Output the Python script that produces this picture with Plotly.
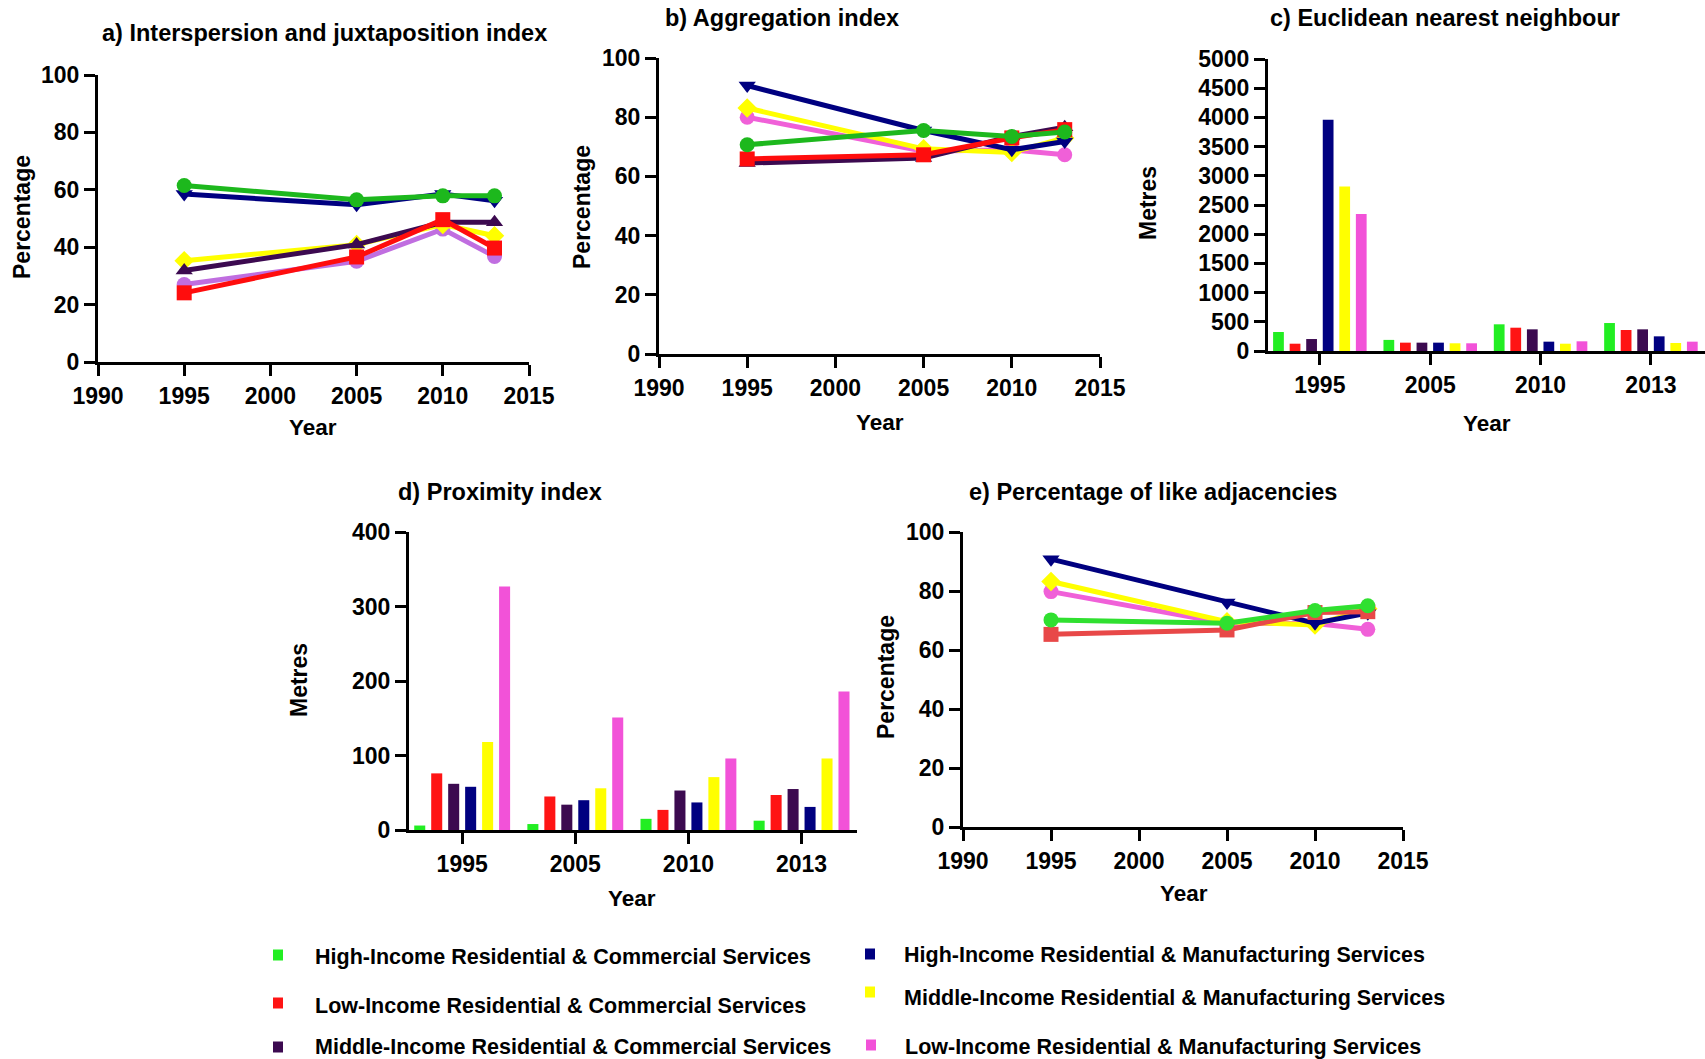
import plotly.graph_objects as go

W, H = 1705, 1059
FONT = "Arial, 'Liberation Sans', sans-serif"

YEARS = [1995, 2005, 2010, 2013]
YEAR_LABELS = ["1995", "2005", "2010", "2013"]

SERIES = {
    "hi_com": "High-Income Residential & Commercial Services",
    "lo_com": "Low-Income Residential & Commercial Services",
    "mid_com": "Middle-Income Residential & Commercial Services",
    "hi_man": "High-Income Residential & Manufacturing Services",
    "mid_man": "Middle-Income Residential & Manufacturing Services",
    "lo_man": "Low-Income Residential & Manufacturing Services",
}

# a) Interspersion and juxtaposition index (%)
iji = {
    "hi_com": [61.5, 56.5, 57.9, 57.9],
    "lo_com": [24.1, 36.6, 49.6, 39.7],
    "mid_com": [31.9, 40.9, 48.7, 48.7],
    "hi_man": [58.5, 54.8, 58.5, 56.2],
    "mid_man": [35.3, 40.9, 47.9, 44.0],
    "lo_man": [27.0, 35.1, 46.3, 36.8],
}

# b) Aggregation index (%)
ai = {
    "hi_com": [70.7, 75.5, 73.5, 75.0],
    "lo_com": [65.9, 67.3, 73.0, 75.8],
    "mid_com": [64.5, 66.2, 73.5, 76.6],
    "hi_man": [90.7, 75.5, 69.0, 71.8],
    "mid_man": [83.1, 69.3, 68.1, 73.0],
    "lo_man": [80.0, 68.5, 69.0, 67.3],
}

# c) Euclidean nearest neighbour (m)
enn = {
    "hi_com": [325, 190, 457, 479],
    "lo_com": [125, 143, 399, 360],
    "mid_com": [205, 143, 371, 371],
    "hi_man": [3961, 143, 160, 251],
    "mid_man": [2818, 132, 125, 137],
    "lo_man": [2348, 132, 166, 160],
}

# d) Proximity index (m)
prox = {
    "hi_com": [6, 8, 15, 12.5],
    "lo_com": [76, 45, 27, 47],
    "mid_com": [62, 34, 53, 55],
    "hi_man": [58, 40, 37, 31],
    "mid_man": [118, 56, 71, 96],
    "lo_man": [327, 151, 96, 186],
}

# e) Percentage of like adjacencies (%)
pladj = {
    "hi_com": [70.2, 69.1, 73.4, 75.0],
    "lo_com": [65.3, 66.8, 72.7, 73.0],
    "hi_man": [90.8, 76.1, 69.1, 72.5],
    "mid_man": [83.2, 69.6, 68.5, 74.0],
    "lo_man": [79.8, 69.0, 69.0, 67.0],
}

SYMBOLS = {
    "hi_com": "circle", "lo_com": "square", "mid_com": "triangle-up",
    "hi_man": "triangle-down", "mid_man": "diamond", "lo_man": "circle",
}
BAR_COLORS = {
    "hi_com": "#22ee22", "lo_com": "#ff1414", "mid_com": "#3c0a50",
    "hi_man": "#000080", "mid_man": "#ffff00", "lo_man": "#f252d8",
}
LINE_COLORS = {
    "hi_com": "#1db81d", "lo_com": "#ff0d0d", "mid_com": "#3c0a50",
    "hi_man": "#000080", "mid_man": "#ffff00", "lo_man": "#f060d8",
}
LINE_COLORS_A = dict(LINE_COLORS, lo_man="#c06ee0")
LINE_COLORS_E = dict(LINE_COLORS, hi_com="#30e030", lo_com="#e84848")

DRAW_ORDER = ["lo_man", "mid_man", "hi_man", "mid_com", "lo_com", "hi_com"]
BAR_ORDER = ["hi_com", "lo_com", "mid_com", "hi_man", "mid_man", "lo_man"]

# panel boxes in pixels: left, right, top, bottom
BOXES = {
    1: (98, 529, 75, 362),
    2: (659, 1100, 58, 354),
    3: (1268, 1705, 59, 351),
    4: (409, 857, 532, 830),
    5: (963, 1403, 532, 827),
}


def fx(p):
    return p / W


def fy(p):
    return 1 - p / H


fig = go.Figure()


def add_lines(n, data, colors):
    for k in DRAW_ORDER:
        if k not in data:
            continue
        fig.add_trace(go.Scatter(
            x=YEARS, y=data[k], mode="lines+markers", name=SERIES[k],
            line=dict(color=colors[k], width=5),
            marker=dict(symbol=SYMBOLS[k], size=15, color=colors[k],
                        line=dict(width=0)),
            xaxis=f"x{n}", yaxis=f"y{n}", showlegend=False, cliponaxis=False,
        ))


def add_bars(n, data):
    for k in BAR_ORDER:
        fig.add_trace(go.Bar(
            x=YEAR_LABELS, y=data[k], name=SERIES[k],
            marker=dict(color=BAR_COLORS[k], line=dict(width=0)),
            offsetgroup=k, xaxis=f"x{n}", yaxis=f"y{n}", showlegend=False,
        ))


add_lines(1, iji, LINE_COLORS_A)
add_lines(2, ai, LINE_COLORS)
add_bars(3, enn)
add_bars(4, prox)
add_lines(5, pladj, LINE_COLORS_E)

tick_font = dict(family=FONT, size=23, color="black", weight="bold")
axis_style = dict(
    showline=True, linecolor="black", linewidth=3, mirror=False,
    ticks="outside", ticklen=11, tickwidth=3, tickcolor="black",
    showgrid=False, zeroline=False, tickfont=tick_font, fixedrange=True,
    automargin=False,
)

layout = dict(
    template="none",
    width=W, height=H, autosize=False,
    margin=dict(l=0, r=0, t=0, b=0, pad=0, autoexpand=False),
    paper_bgcolor="white", plot_bgcolor="white",
    barmode="group", bargap=0.1, bargroupgap=0.35,
    showlegend=False,
    font=dict(family=FONT, color="black"),
)

for n, (l, r, t, b) in BOXES.items():
    xa = dict(axis_style, domain=[fx(l), fx(r)], anchor=f"y{n}")
    ya = dict(axis_style, domain=[fy(b), fy(t)], anchor=f"x{n}")
    if n in (3, 4):
        xa.update(type="category", range=[-0.47, 3.49])
    else:
        xa.update(range=[1990, 2015], tickvals=[1990, 1995, 2000, 2005, 2010, 2015])
    if n == 3:
        ya.update(range=[0, 5000], dtick=500)
    elif n == 4:
        ya.update(range=[0, 400], dtick=100)
    else:
        ya.update(range=[0, 100], dtick=20)
    sfx = "" if n == 1 else str(n)
    layout["xaxis" + sfx] = xa
    layout["yaxis" + sfx] = ya

annotations = []


def text(x, y, s, size, angle=0, xanchor="center"):
    annotations.append(dict(
        x=fx(x), y=fy(y), xref="paper", yref="paper", text=s,
        showarrow=False, xanchor=xanchor, yanchor="middle", textangle=angle,
        font=dict(family=FONT, size=size, color="black", weight="bold"),
    ))


# panel titles
text(324, 33, "a) Interspersion and juxtaposition index", 23.5)
text(782, 18, "b) Aggregation index", 23.5)
text(1445, 18, "c) Euclidean nearest neighbour", 23.5)
text(500, 492, "d) Proximity index", 23.5)
text(1153, 492, "e) Percentage of like adjacencies", 23.5)

# axis titles
text(313, 428, "Year", 22.5)
text(880, 422, "Year", 22.5)
text(1487, 423, "Year", 22.5)
text(632, 898, "Year", 22.5)
text(1184, 893, "Year", 22.5)
text(22, 217, "Percentage", 23, angle=-90)
text(582, 207, "Percentage", 23, angle=-90)
text(1148, 203, "Metres", 23, angle=-90)
text(299, 680, "Metres", 23, angle=-90)
text(886, 677, "Percentage", 23, angle=-90)

# legend: colour squares with labels, two columns
LEGEND_ITEMS = [
    ("hi_com", 278, 955, 313, 957),
    ("lo_com", 278, 1003, 313, 1006),
    ("mid_com", 278, 1047, 313, 1047),
    ("hi_man", 870, 954, 902, 955),
    ("mid_man", 870, 992, 902, 998),
    ("lo_man", 871, 1045, 903, 1047),
]
shapes = []
for k, sx, sy, tx, ty in LEGEND_ITEMS:
    shapes.append(dict(
        type="rect", xref="paper", yref="paper",
        x0=fx(sx - 5), x1=fx(sx + 5), y0=fy(sy + 5.5), y1=fy(sy - 5.5),
        fillcolor=BAR_COLORS[k], line=dict(width=0),
    ))
    text(tx, ty, SERIES[k], 21.5, xanchor="left")

layout["annotations"] = annotations
layout["shapes"] = shapes
fig.update_layout(**layout)

fig.write_html("out.html", config={"displayModeBar": False})
